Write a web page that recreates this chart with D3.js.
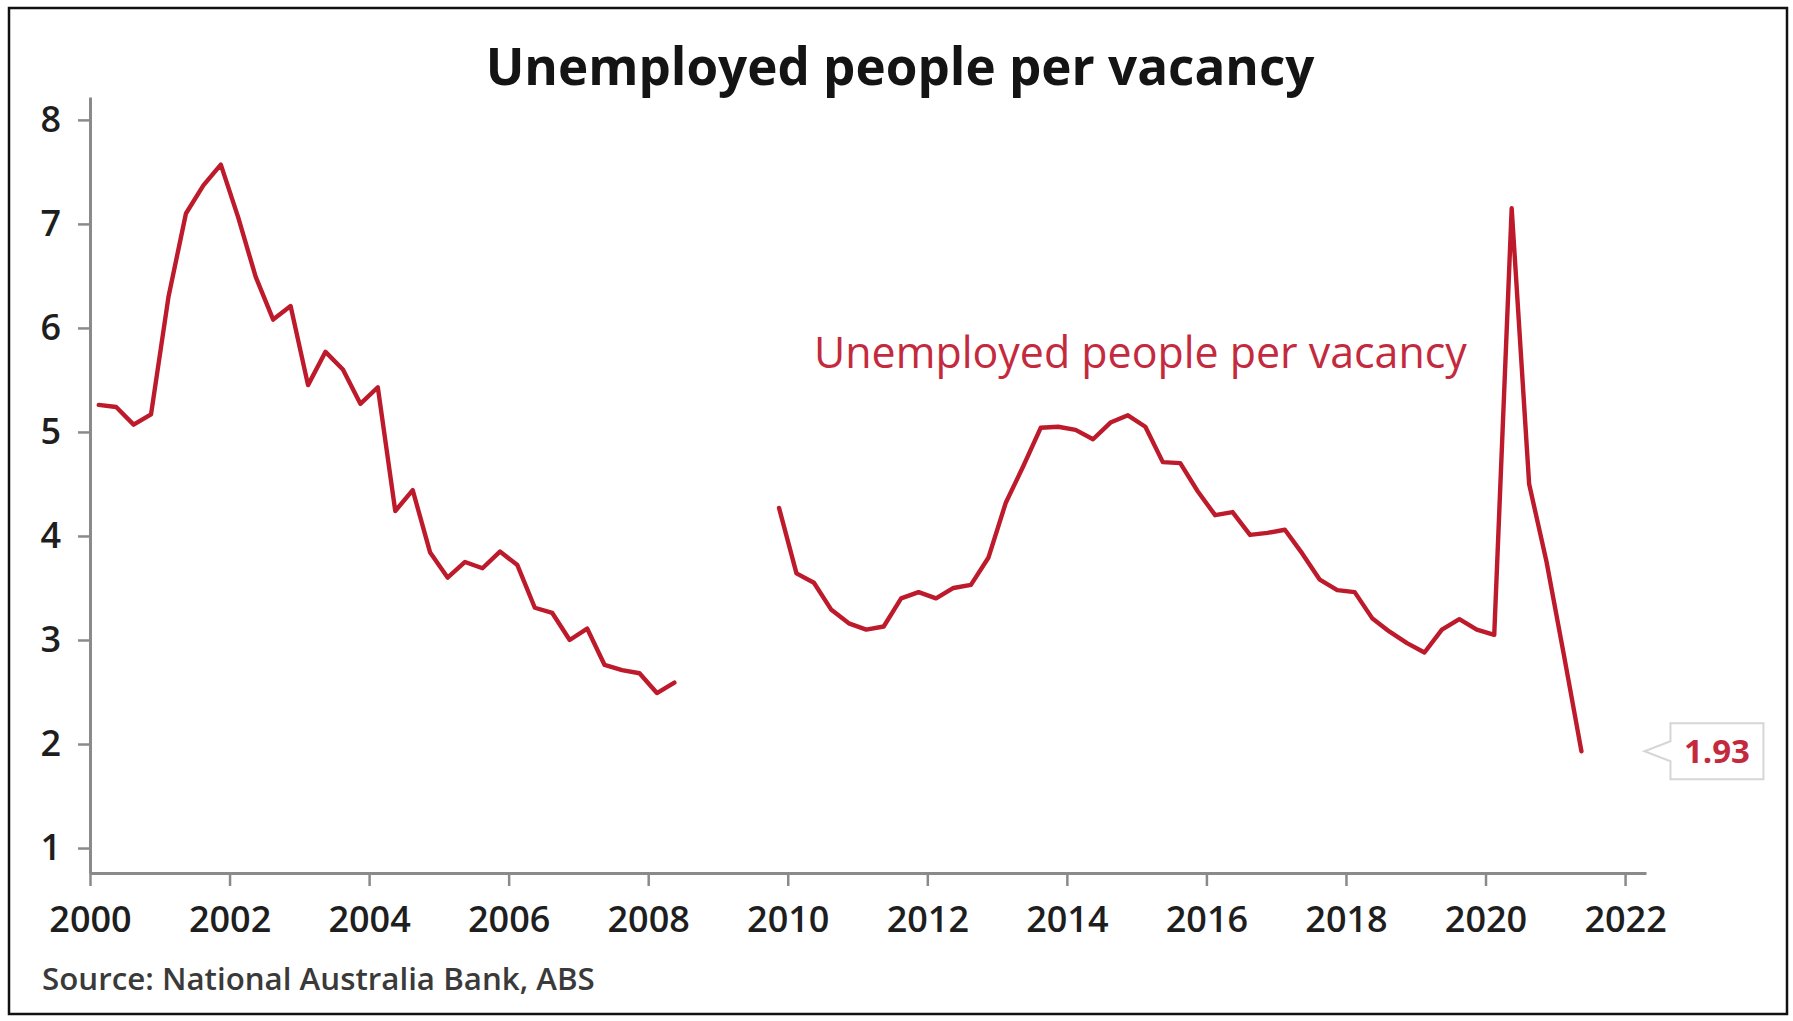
<!DOCTYPE html>
<html>
<head>
<meta charset="utf-8">
<script src="https://cdn.jsdelivr.net/npm/d3@7"></script>
<style>
  html, body { margin: 0; padding: 0; background: #fff; }
  svg { display: block; }
  text { font-family: "Open Sans", "Noto Sans", sans-serif; }
</style>
</head>
<body>
<script>
// ---- data ----
const chartTitle = "Unemployed people per vacancy";
const seriesLabel = "Unemployed people per vacancy";
const sourceText = "Source: National Australia Bank, ABS";
const lastValueLabel = "1.93";

// Quarterly (Feb, May, Aug, Nov) observations
const segment1Start = "2000-02";   // Feb 2000 .. May 2008
const segment1Values = [
  5.26, 5.24, 5.07, 5.17, 6.30, 7.10, 7.37, 7.57, 7.06, 6.49,
  6.08, 6.21, 5.45, 5.77, 5.60, 5.27, 5.43, 4.24, 4.44, 3.84,
  3.60, 3.75, 3.69, 3.85, 3.72, 3.31, 3.26, 3.00, 3.11, 2.76,
  2.71, 2.68, 2.49, 2.59
];
const segment2Start = "2009-11";   // Nov 2009 .. May 2021
const segment2Values = [
  4.27, 3.64, 3.55, 3.29, 3.16, 3.10, 3.13, 3.40, 3.46, 3.40,
  3.50, 3.53, 3.79, 4.32, 4.67, 5.04, 5.05, 5.02, 4.93, 5.09,
  5.16, 5.05, 4.71, 4.70, 4.43, 4.20, 4.23, 4.01, 4.03, 4.06,
  3.83, 3.58, 3.48, 3.46, 3.21, 3.08, 2.97, 2.88, 3.10, 3.20,
  3.10, 3.05, 7.15, 4.50, 3.75, 2.85, 1.93
];
const xTickYears = [2000, 2002, 2004, 2006, 2008, 2010, 2012, 2014, 2016, 2018, 2020, 2022];
const yTickValues = [1, 2, 3, 4, 5, 6, 7, 8];

// ---- helpers ----
function quarterly(start, values) {
  const [y, m] = start.split("-").map(Number);
  return values.map((v, i) => {
    const month = (m - 1) + i * 3;
    const t = y + (month + 0.5) / 12;
    return { t, v };
  });
}
const seg1 = quarterly(segment1Start, segment1Values);
const seg2 = quarterly(segment2Start, segment2Values);

const W = 1793, H = 1021;
const svg = d3.select("body").append("svg").attr("width", W).attr("height", H);

svg.append("rect").attr("x", 0).attr("y", 0).attr("width", W).attr("height", H).attr("fill", "#fff");
svg.append("rect").attr("x", 9).attr("y", 8).attr("width", 1778).attr("height", 1006)
  .attr("fill", "#fff").attr("stroke", "#111").attr("stroke-width", 2.5);

const x = d3.scaleLinear().domain([2000, 2022.3]).range([90, 1646]);
const y = d3.scaleLinear().domain([0.76, 8.22]).range([873, 97]);

function fitWidth(sel, target) {
  const w = sel.node().getComputedTextLength();
  const fs = parseFloat(sel.attr("font-size"));
  sel.attr("font-size", fs * target / w);
}

const axisColor = "#8a8a8a";
const xAxis = svg.append("g").attr("transform", `translate(0,${y.range()[0]})`)
  .call(d3.axisBottom(x).tickValues(xTickYears).tickFormat(d3.format("d"))
    .tickSize(13).tickSizeOuter(0).tickPadding(20));
const yAxis = svg.append("g").attr("transform", `translate(${x.range()[0]},0)`)
  .call(d3.axisLeft(y).tickValues(yTickValues).tickFormat(d3.format("d"))
    .tickSize(12).tickSizeOuter(0).tickPadding(17));
[xAxis, yAxis].forEach(g => {
  g.select(".domain").attr("stroke", axisColor).attr("stroke-width", 3);
  g.selectAll(".tick line").attr("stroke", axisColor).attr("stroke-width", 2.5);
  g.selectAll(".tick text").attr("fill", "#1e1e1e")
    .style("font-family", "'Open Sans', sans-serif").attr("font-size", 36).attr("font-weight", 600);
});

const line = d3.line().x(d => x(d.t)).y(d => y(d.v));
const lineColor = "#bd1a2c";
[seg1, seg2].forEach(seg => {
  svg.append("path").datum(seg).attr("d", line)
    .attr("fill", "none").attr("stroke", lineColor).attr("stroke-width", 4.4)
    .attr("stroke-linejoin", "round").attr("stroke-linecap", "round");
});

const title = svg.append("text").attr("x", 900).attr("y", 85).attr("text-anchor", "middle")
  .attr("font-size", 46).attr("font-weight", 700).attr("fill", "#141414").text(chartTitle);
fitWidth(title, 829);

const sl = svg.append("text").attr("x", 814).attr("y", 368)
  .attr("font-size", 38).attr("font-weight", 500).attr("fill", "#c42a3e").text(seriesLabel);
fitWidth(sl, 653);

const src = svg.append("text").attr("x", 42).attr("y", 990)
  .attr("font-size", 26).attr("font-weight", 600).attr("fill", "#3a3a3a").text(sourceText);
fitWidth(src, 553);

const last = seg2[seg2.length - 1];
const lx = x(last.t), ly = y(last.v);
const tipX = lx + 63, bx0 = lx + 89, bx1 = lx + 182, by0 = ly - 28, by1 = ly + 28;
svg.append("path")
  .attr("d", `M${bx0},${by0} L${bx1},${by0} L${bx1},${by1} L${bx0},${by1} L${bx0},${ly + 10} L${tipX},${ly} L${bx0},${ly - 10} Z`)
  .attr("fill", "#fff").attr("stroke", "#d6d6d6").attr("stroke-width", 2);
svg.append("text").attr("x", (bx0 + bx1) / 2).attr("y", ly + 12).attr("text-anchor", "middle")
  .attr("font-size", 33).attr("font-weight", 700).attr("fill", "#c42a3e").text(lastValueLabel);
</script>
</body>
</html>
